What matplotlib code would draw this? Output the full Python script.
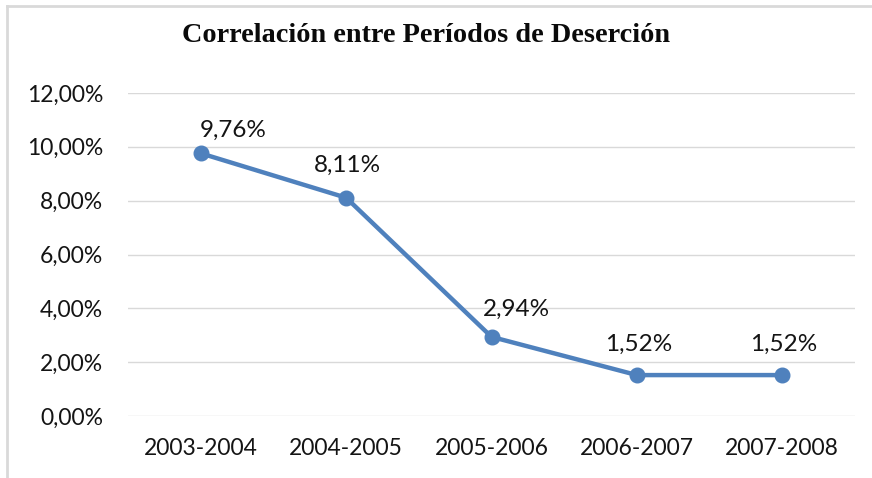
import matplotlib
matplotlib.use("Agg")
import matplotlib.pyplot as plt
from matplotlib.lines import Line2D
from matplotlib.ticker import FuncFormatter

# data
periods = ["2003-2004", "2004-2005", "2005-2006", "2006-2007", "2007-2008"]
desercion = [0.0976, 0.0811, 0.0294, 0.0152, 0.0152]
etiquetas = ["9,76%", "8,11%", "2,94%", "1,52%", "1,52%"]
# label offsets in pixels (Excel labels were nudged by hand)
label_dx = [32, 1, 25, 2, 1]
label_dy = [23, 32, 28, 31, 31]

blue = "#4F81BD"
grid_gray = "#D9D9D9"
text_col = "#141414"

plt.rcParams["font.family"] = ["Lato", "DejaVu Sans"]

fig = plt.figure(figsize=(8.72, 4.78), dpi=100)
ax = fig.add_axes([128 / 872, 1 - 416 / 478, (855 - 128) / 872, (416 - 93) / 478])

x = list(range(len(periods)))
ax.plot(x, desercion, color=blue, lw=3.2, marker="o", markersize=10.5,
        solid_capstyle="round", zorder=3, clip_on=False)

for xi, yi, lab, dx, dy in zip(x, desercion, etiquetas, label_dx, label_dy):
    ax.annotate(lab, (xi, yi), xytext=(dx, dy), textcoords="offset pixels",
                ha="center", va="center", fontsize=17.5, color=text_col)

ax.set_xlim(-0.5, len(periods) - 0.5)
ax.set_ylim(0, 0.12)
ax.set_yticks([0, 0.02, 0.04, 0.06, 0.08, 0.10, 0.12])
ax.yaxis.set_major_formatter(FuncFormatter(lambda v, p: f"{v * 100:.2f}%".replace(".", ",")))
ax.set_xticks(x)
ax.set_xticklabels(periods)

ax.grid(axis="y", color=grid_gray, lw=1)
ax.set_axisbelow(True)
for s in ax.spines.values():
    s.set_visible(False)
ax.tick_params(axis="both", length=0, labelsize=16.5, colors=text_col)
ax.tick_params(axis="y", pad=18)
ax.tick_params(axis="x", pad=16)

fig.text(426 / 872, 1 - 35 / 478, "Correlación entre Períodos de Deserción",
         ha="center", va="center", fontsize=20.3, fontweight="bold",
         family=["Liberation Serif", "DejaVu Serif"], color="#0A0A0A")

# chart border (only top and left edges visible in the original crop)
fig.add_artist(Line2D([7 / 872, 1], [1 - 6 / 478, 1 - 6 / 478], transform=fig.transFigure,
                      color=grid_gray, lw=2))
fig.add_artist(Line2D([7 / 872, 7 / 872], [0, 1 - 6 / 478], transform=fig.transFigure,
                      color=grid_gray, lw=2))

fig.savefig("out.png", dpi=100)
